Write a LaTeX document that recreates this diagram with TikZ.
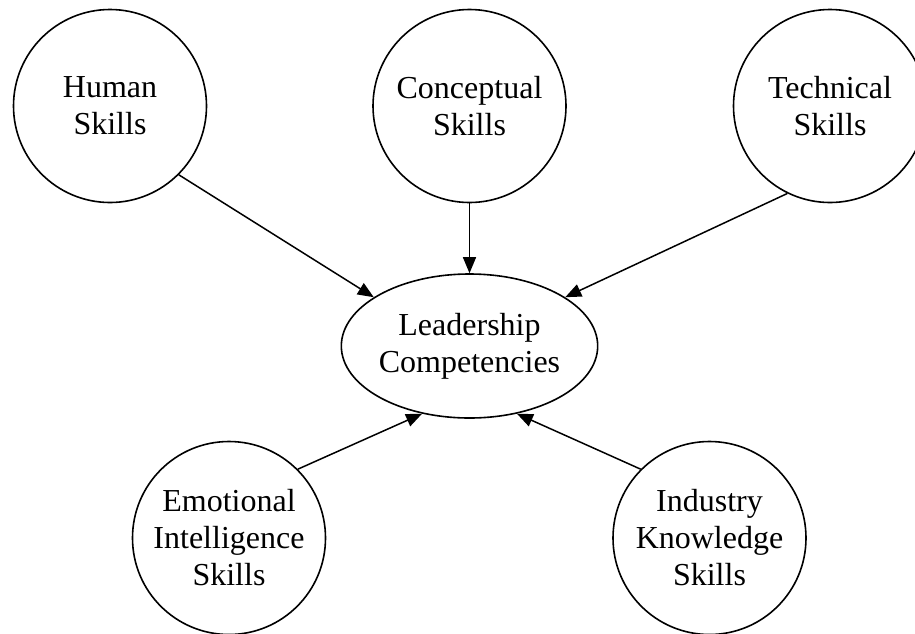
\documentclass[tikz,border=0pt]{standalone}
\usepackage{fontspec}
\setmainfont{Liberation Serif}
\usetikzlibrary{shapes.geometric,arrows.meta}

\begin{document}
\begin{tikzpicture}[x=1pt,y=-1pt,
    skill/.style={draw,circle,line width=1.6pt,minimum size=193pt,inner sep=0pt,align=center},
    core/.style={draw,ellipse,line width=1.6pt,minimum width=241pt,minimum height=144pt,inner sep=0pt,align=center},
    link/.style={line width=1.5pt,-{Triangle[length=16pt,width=13pt]}},
    font=\fontsize{32}{37}\selectfont]
   \useasboundingbox (0,0) rectangle (915,633);
   \node[core]  (lead) at (469.5,346) {Leadership\\Competencies};
   \node[skill] (hum)  at (110,106)   {Human\\Skills};
   \node[skill] (con)  at (469.5,106) {Conceptual\\Skills};
   \node[skill] (tec)  at (830,106)   {Technical\\Skills};
   \node[skill] (emo)  at (229,538)   {Emotional\\Intelligence\\Skills};
   \node[skill] (ind)  at (709.5,538) {Industry\\Knowledge\\Skills};
   % fleches vers le centre
   \draw[link] (hum.-45)  -- (lead.153);
   \draw[link] (con.south) -- (lead.north);
   \draw[link] (tec.-116) -- (lead.27);
   \draw[link] (emo.45)   -- (lead.-125);
   \draw[link] (ind.135)  -- (lead.-55);
\end{tikzpicture}
\end{document}
